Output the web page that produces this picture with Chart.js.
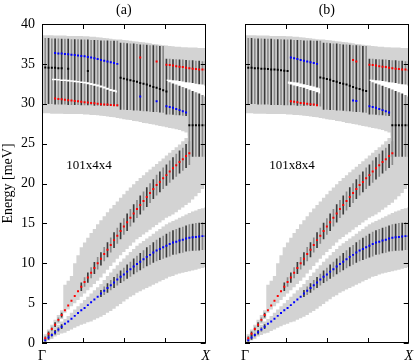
<!DOCTYPE html>
<html>
<head>
<meta charset="utf-8">
<script src="https://cdn.jsdelivr.net/npm/chart.js@4/dist/chart.umd.min.js"></script>
<style>
  body { margin: 0; background: #fff; }
  #wrap { position: relative; width: 420px; height: 363px; }
  canvas { position: absolute; top: 0; }
</style>
</head>
<body>
<div id="wrap">
  <canvas id="chartA" width="215" height="363" style="left:0"></canvas>
  <canvas id="chartB" width="196" height="363" style="left:222px"></canvas>
</div>
<script>
const _ = null;
const Q = 51; // q points from Gamma (0) to X (50)

const energyTicks = [0, 5, 10, 15, 20, 25, 30, 35, 40];
const qTicks = [12.5, 25, 37.5];
const qLabels = ['Γ', 'X'];
const panelTitles = ['(a)', '(b)'];
const cellLabels = ['101x4x4', '101x8x4'];
const cellPos = [7.4, 22.2];

function at(from, vals) {
    const arr = new Array(Q).fill(null);
    vals.forEach((v, i) => { arr[from + i] = v; });
    return arr;
}

// acoustic branches (same in both panels)
const taE = [0.0, 0.35, 0.7, 1.0, 1.35, 1.7, 2.05, 2.4, 2.7, 3.05,
    3.4, 3.75, 4.1, 4.4, 4.75, 5.1, 5.45, 5.8, 6.2, 6.55,
    6.9, 7.25, 7.6, 7.95, 8.3, 8.6, 8.95, 9.25, 9.6, 9.9,
    10.2, 10.5, 10.8, 11.05, 11.35, 11.6, 11.8, 12.0, 12.2, 12.4,
    12.6, 12.7, 12.85, 12.95, 13.1, 13.2, 13.25, 13.3, 13.35, 13.4, 13.4];
const taErr = [_, 0.25, 0.25, 0.25, 0.25, 0.25, 0.25, _, _, _,
    _, _, _, _, _, _, _, _, 0.4, 0.5,
    0.55, 0.6, 0.65, 0.7, 0.75, 0.8, 0.85, 0.9, 0.95, 1.0,
    1.05, 1.1, 1.15, 1.2, 1.25, 1.3, 1.35, 1.4, 1.45, 1.5,
    1.5, 1.55, 1.55, 1.6, 1.6, 1.65, 1.65, 1.7, 1.7, 1.7, 1.7];
const laE = [0, 0.6, 1.15, 1.75, 2.3, 2.9, 3.5, 4.1, 4.7, 5.3,
    5.9, 6.5, 7.05, 7.65, 8.2, 8.8, 9.4, 10.0, 10.55, 11.15,
    11.7, 12.3, 12.9, 13.45, 14.05, 14.6, 15.15, 15.7, 16.25, 16.8,
    17.3, 17.8, 18.3, 18.8, 19.3, 19.8, 20.2, 20.65, 21.05, 21.5,
    21.9, 22.3, 22.7, 23.05, 23.45, 23.8];
const laErr = [_, 0.25, 0.25, 0.25, 0.25, 0.25, 0.25, _, _, _,
    _, _, 0.5, 0.55, 0.6, 0.65, 0.7, 0.75, 0.8, 0.85,
    0.9, 0.9, 0.95, 0.95, 1.0, 1.0, 1.05, 1.05, 1.1, 1.1,
    1.15, 1.15, 1.2, 1.2, 1.2, 1.25, 1.25, 1.3, 1.3, 1.35,
    1.35, 1.4, 1.4, 1.4, 1.45, 1.45];

// grey spectral bands
const taBandLo = [0, 0.1, 0.3, 0.5, 0.8, 1.0, 1.2, 1.3, 1.5, 1.7,
    1.9, 2.1, 2.3, 2.4, 2.6, 2.7, 2.9, 3.1, 3.3, 3.5,
    3.8, 4.0, 4.3, 4.6, 4.9, 5.2, 5.5, 5.8, 6.0, 6.3,
    6.5, 6.7, 6.9, 7.1, 7.3, 7.5, 7.7, 7.9, 8.1, 8.3,
    8.4, 8.6, 8.7, 8.8, 8.9, 9.0, 9.1, 9.2, 9.3, 9.4, 9.5];
const taBandHi = [0.4, 0.8, 1.2, 1.6, 2.0, 2.3, 2.7, 3.0, 3.4, 3.8,
    4.2, 4.6, 5.0, 5.4, 5.8, 6.2, 6.6, 7.0, 7.4, 7.9,
    8.4, 8.85, 9.3, 9.75, 10.2, 10.6, 11.0, 11.4, 11.8, 12.2,
    12.5, 12.8, 13.1, 13.4, 13.7, 14.0, 14.3, 14.6, 14.9, 15.1,
    15.3, 15.5, 15.7, 15.9, 16.1, 16.3, 16.5, 16.6, 16.8, 16.9, 17.0];
const laBandLo = [0, 0.1, 0.65, 1.25, 1.8, 2.4, 3.0, 3.8, 4.2, 4.6,
    5.0, 5.4, 5.8, 6.2, 6.6, 7.0, 7.4, 7.8, 8.2, 8.7,
    9.2, 9.65, 10.1, 10.55, 11.0, 11.4, 11.8, 12.2, 12.6, 13.0,
    13.3, 13.6, 13.9, 14.2, 14.5, 14.8, 15.1, 15.4, 15.7, 15.9,
    16.1, 16.4, 16.7, 17.0, 17.3, 17.6, 18.0, 18.4, 18.8, 19.3, 19.8];
const laBandHi = [0.5, 1.1, 1.7, 2.3, 2.9, 3.5, 4.1, 7.3, 7.8, 8.4,
    10.0, 11.0, 12.0, 12.6, 13.2, 13.8, 14.3, 14.9, 15.4, 15.9,
    16.4, 16.85, 17.3, 17.75, 18.2, 18.65, 19.1, 19.5, 19.9, 20.3,
    20.7, 21.05, 21.4, 21.75, 22.1, 22.45, 22.8, 23.15, 23.5, 23.85,
    24.2, 24.55, 24.9, 25.3, 25.7, 29.0, 29.0, 29.0, 29.0, 29.0, 29.0];
const optBandLo = [28.8, 28.8, 28.8, 28.75, 28.75, 28.75, 28.75, 28.7, 28.7, 28.7,
    28.7, 28.7, 28.7, 28.65, 28.65, 28.6, 28.6, 28.55, 28.5, 28.45,
    28.4, 28.35, 28.3, 28.2, 28.15, 28.05, 28.0, 27.95, 27.85, 27.8,
    27.7, 27.6, 27.55, 27.45, 27.4, 27.3, 27.2, 27.15, 27.05, 26.95,
    26.9, 26.8, 26.7, 26.55, 26.4, 26.0, 26.0, 26.0, 26.0, 26.0, 26.0];
const optBandHi = [38.6, 38.6, 38.6, 38.6, 38.55, 38.55, 38.55, 38.55, 38.5, 38.5,
    38.5, 38.5, 38.5, 38.45, 38.45, 38.4, 38.4, 38.35, 38.3, 38.25,
    38.2, 38.15, 38.1, 38.05, 38.05, 38.0, 37.95, 37.9, 37.85, 37.8,
    37.75, 37.7, 37.65, 37.6, 37.5, 37.45, 37.4, 37.35, 37.3, 37.25,
    37.2, 37.15, 37.15, 37.1, 37.1, 37.05, 37.05, 37.05, 37.0, 37.0, 37.0];

// widths of the optic modes (vertical bars)
const optBarLo = [30.0, 30.0, 30.0, 30.0, 29.95, 29.95, 29.95, 29.95, 29.9, 29.9,
    29.9, 29.9, 29.85, 29.85, 29.85, 29.85, 29.8, 29.8, 29.8, 29.8,
    29.75, 29.75, 29.75, 29.7, 29.3, 29.3, 29.25, 29.25, 29.2, 29.2,
    29.15, 29.1, 29.1, 29.05, 29.0, 29.0, 28.95, 28.9, 28.7, 28.7,
    28.65, 28.6, 28.6, 28.55, 28.5, 23.4, 23.4, 23.4, 23.4, 23.4, 23.4];
const optBarHi = [38.2, 38.2, 38.2, 38.15, 38.15, 38.15, 38.1, 38.1, 38.1, 38.05,
    38.05, 38.05, 38.0, 38.0, 38.0, 37.95, 37.95, 37.95, 37.9, 37.9,
    37.9, 37.85, 37.85, 37.85, 37.6, 37.6, 37.55, 37.5, 37.5, 37.45,
    37.4, 37.4, 37.35, 37.3, 37.3, 37.25, 37.2, 37.2, 35.6, 35.6,
    35.55, 35.55, 35.5, 35.5, 35.45, 35.4, 35.4, 35.35, 35.35, 35.3, 35.3];

// white gaps inside the optic band
const wedgeHi = at(38, [33.05, 33.0, 32.95, 32.9, 32.85, 32.8, 32.7, 32.65, 32.6, 32.5, 32.45, 32.4, 32.3]);
const wedgeLo = at(38, [32.85, 32.7, 32.55, 32.4, 32.25, 32.1, 31.95, 31.8, 31.6, 31.45, 31.3, 31.1, 30.9]);
const aGapHi = at(3, [33.15, 33.15, 33.1, 33.05, 33.05, 33.0, 32.95, 32.9, 32.85, 32.8, 32.75,
    32.7, 32.6, 32.5, 32.4, 32.3, 32.15, 32.0, 31.85, 31.75, 31.65]);
const aGapLo = at(3, [32.95, 32.95, 32.9, 32.85, 32.85, 32.8, 32.75, 32.7, 32.65, 32.6, 32.55,
    32.45, 32.35, 32.25, 32.15, 32.05, 31.9, 31.75, 31.6, 31.5, 31.4]);
const bGapHi = at(13, [32.8, 32.75, 32.7, 32.65, 32.55, 32.45, 32.35, 32.25, 32.15, 32.05, 31.95]);
const bGapLo = at(13, [32.5, 32.4, 32.3, 32.2, 32.1, 32.0, 31.85, 31.7, 31.6, 31.45, 31.3]);

// optic mode centres, panel (a)
const aRed = [_, _, _, _, 30.65, 30.6, 30.55, 30.5, 30.45, 30.4,
    30.35, 30.3, 30.25, 30.2, 30.15, 30.1, 30.05, 30.0, 29.95, 29.9,
    29.9, 29.85, 29.8, 29.8, _, _, _, _, _, _,
    35.8, _, _, _, _, 35.3, _, _, 34.9, 34.85,
    34.8, 34.7, 34.65, 34.6, 34.5, 34.45, 34.4, 34.35, 34.3, 34.3, 34.3];
const aBlue = [_, _, _, _, 36.35, 36.3, 36.3, 36.25, 36.2, 36.15,
    36.1, 36.05, 36.0, 35.95, 35.85, 35.8, 35.7, 35.6, 35.5, 35.4,
    35.3, 35.2, 35.1, 35.0, _, _, _, _, _, _,
    30.9, _, _, _, _, 30.3, _, _, 29.7, 29.6,
    29.5, 29.35, 29.2, 29.05, 28.9, _, _, _, _, _, _];
const aBlack = [34.55, 34.55, 34.5, 34.5, 34.5, 34.45, 34.45, _, 34.4, _,
    _, _, _, _, 34.1, _, _, _, _, _,
    _, _, _, _, 33.25, 33.15, 33.05, 32.95, 32.85, 32.75,
    32.6, 32.5, 32.4, 32.25, 32.1, 32.0, 31.85, 31.7, 31.55, _,
    _, _, _, _, _, 27.3, 27.3, 27.3, 27.3, 27.3, 27.3];

// optic mode centres, panel (b)
const bRed = [_, _, _, _, _, _, _, _, _, _,
    _, _, _, _, 30.3, 30.25, 30.2, 30.1, 30.05, 30.0,
    29.95, 29.9, 29.8, _, _, _, _, _, _, _,
    _, _, _, 35.5, 35.3, _, _, _, 34.9, 34.85,
    34.8, 34.7, 34.65, 34.6, 34.5, 34.45, 34.4, 34.35, 34.3, 34.3, 34.2];
const bBlue = [_, _, _, _, _, _, _, _, _, _,
    _, _, _, _, 35.8, 35.7, 35.6, 35.5, 35.4, 35.3,
    35.2, 35.1, 35.0, _, _, _, _, _, _, _,
    _, _, _, 30.4, 30.35, _, _, _, 29.7, 29.6,
    29.5, 29.35, 29.2, 29.05, 28.9, _, _, _, _, _, _];
const bBlack = [34.5, 34.5, 34.5, 34.45, 34.45, 34.4, 34.4, 34.35, 34.3, 34.3,
    34.25, 34.2, 34.15, 34.1, _, _, _, _, _, _,
    _, _, _, 33.3, 33.2, 33.1, 33.0, 32.85, 32.75, 32.6,
    32.5, 32.4, 32.25, 32.1, 31.95, 31.85, 31.7, 31.6, _, _,
    _, _, _, _, _, 27.3, 27.3, 27.3, 27.3, 27.3, 27.3];

const FONT = '"Liberation Serif", "Times New Roman", serif';
const GREY = '#d3d3d3';

function pts(arr) {
    const out = [];
    arr.forEach((v, i) => { if (v != null) out.push({ x: i, y: v }); });
    return out;
}
function spans(lo, hi) {
    const out = [];
    lo.forEach((v, i) => { if (v != null && hi[i] != null) out.push({ x: i, y: [v, hi[i]] }); });
    return out;
}
function errSpans(center, err) {
    const out = [];
    center.forEach((v, i) => { if (err[i] != null) out.push({ x: i, y: [v - err[i], v + err[i]] }); });
    return out;
}

function bandPair(lo, hi, color) {
    const base = { type: 'line', stepped: 'middle', pointRadius: 0, borderWidth: 1, borderColor: 'rgba(0,0,0,0)' };
    return [
        Object.assign({}, base, { data: pts(lo), fill: false }),
        Object.assign({}, base, { data: pts(hi), fill: '-1', backgroundColor: color })
    ];
}
function barSet(data) {
    return {
        type: 'bar', data: data, grouped: false, barThickness: 1, borderWidth: 0,
        backgroundColor: ctx => (ctx.raw && ctx.raw.x % 2) ? '#8a8a8a' : '#3a3a3a'
    };
}
function dotSet(arr, color) {
    return {
        type: 'line', data: pts(arr), showLine: false, pointStyle: 'rect',
        pointRadius: 1.4, pointBorderWidth: 0, pointBackgroundColor: color
    };
}

const decorPlugin = {
    id: 'decor',
    afterDatasetsDraw(chart, args, opts) {
        const { ctx, chartArea: a, scales: { x, y } } = chart;
        ctx.save();
        ctx.fillStyle = '#000';
        ctx.textBaseline = 'middle';
        ctx.textAlign = 'center';
        ctx.font = '14px ' + FONT;
        ctx.fillText(opts.title, (a.left + a.right) / 2, 10);
        ctx.textAlign = 'left';
        ctx.font = '13px ' + FONT;
        ctx.fillText(opts.cell, x.getPixelForValue(cellPos[0]), y.getPixelForValue(cellPos[1]));

        ctx.strokeStyle = '#000';
        ctx.lineWidth = 1;
        ctx.beginPath();
        energyTicks.forEach(v => {
            const py = Math.round(y.getPixelForValue(v)) + 0.5;
            ctx.moveTo(a.left, py); ctx.lineTo(a.left + 5, py);
            ctx.moveTo(a.right, py); ctx.lineTo(a.right - 5, py);
        });
        qTicks.forEach(v => {
            const px = Math.round(x.getPixelForValue(v)) + 0.5;
            ctx.moveTo(px, a.top); ctx.lineTo(px, a.top + 5);
            ctx.moveTo(px, a.bottom); ctx.lineTo(px, a.bottom - 5);
        });
        ctx.stroke();
        ctx.strokeRect(Math.round(a.left) + 0.5, Math.round(a.top) + 0.5,
            Math.round(a.right - a.left) - 1, Math.round(a.bottom - a.top) - 1);
        ctx.restore();
    }
};

function buildPanel(id, p) {
    const datasets = [].concat(
        bandPair(optBandLo, optBandHi, GREY),
        bandPair(laBandLo, laBandHi, GREY),
        bandPair(taBandLo, taBandHi, GREY),
        [barSet(spans(optBarLo, optBarHi)), barSet(errSpans(laE, laErr)), barSet(errSpans(taE, taErr))],
        bandPair(p.gapLo, p.gapHi, '#ffffff'),
        bandPair(wedgeLo, wedgeHi, '#ffffff'),
        [dotSet(taE, '#0000ff'), dotSet(laE, '#ff0000'),
         dotSet(p.red, '#ff0000'), dotSet(p.blue, '#0000ff'), dotSet(p.black, '#000000')]
    );
    datasets.forEach((d, i) => { d.order = 100 - i; });

    return new Chart(document.getElementById(id), {
        type: 'scatter',
        data: { datasets: datasets },
        options: {
            responsive: false,
            animation: false,
            events: [],
            layout: { padding: { top: 24, right: 4, left: 0, bottom: 0 } },
            plugins: {
                legend: { display: false },
                tooltip: { enabled: false },
                decor: { title: p.title, cell: p.cell }
            },
            scales: {
                x: {
                    type: 'linear', min: 0, max: Q - 1, offset: false,
                    grid: { display: false, drawTicks: false },
                    border: { display: false },
                    afterBuildTicks: s => { s.ticks = [{ value: 0 }, { value: Q - 1 }]; },
                    afterFit: s => { s.height = 20; },
                    ticks: {
                        autoSkip: false, maxRotation: 0, padding: 5, color: '#000',
                        callback: v => v === 0 ? qLabels[0] : qLabels[1],
                        font: c => ({ family: FONT, size: 14, style: c.tick && c.tick.value > 0 ? 'italic' : 'normal' })
                    }
                },
                y: {
                    min: 0, max: 40,
                    grid: { display: false, drawTicks: false },
                    border: { display: false },
                    afterFit: s => { s.width = p.axisWidth; },
                    ticks: {
                        display: p.showY, stepSize: 5, padding: 7, color: '#000',
                        font: { family: FONT, size: 14 }
                    },
                    title: {
                        display: p.showY, text: 'Energy [meV]', color: '#000', padding: 0,
                        font: { family: FONT, size: 14 }
                    }
                }
            }
        },
        plugins: [decorPlugin]
    });
}

buildPanel('chartA', {
    title: panelTitles[0], cell: cellLabels[0], showY: true, axisWidth: 42,
    red: aRed, blue: aBlue, black: aBlack, gapLo: aGapLo, gapHi: aGapHi
});
buildPanel('chartB', {
    title: panelTitles[1], cell: cellLabels[1], showY: false, axisWidth: 23,
    red: bRed, blue: bBlue, black: bBlack, gapLo: bGapLo, gapHi: bGapHi
});
</script>
</body>
</html>
